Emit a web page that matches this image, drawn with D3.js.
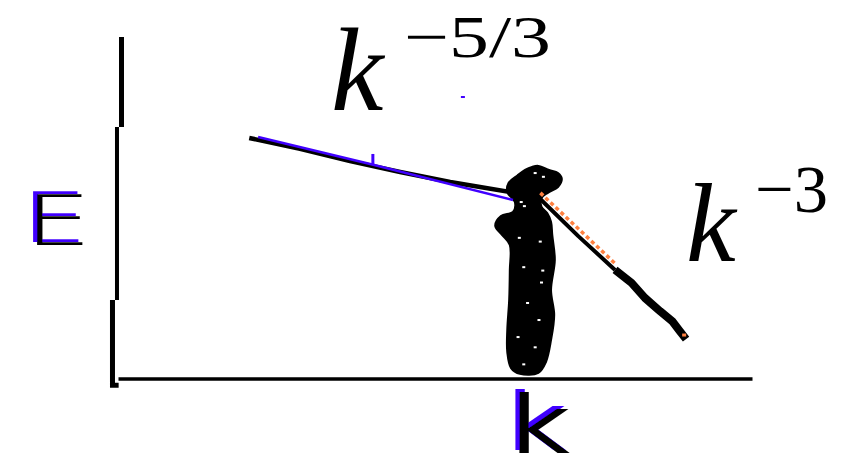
<!DOCTYPE html>
<html>
<head>
<meta charset="utf-8">
<script src="https://cdn.jsdelivr.net/npm/d3@7"></script>
<style>
  html, body { margin: 0; padding: 0; background: #ffffff; }
  svg { display: block; }
</style>
</head>
<body>
<div id="chart"></div>
<script>
// ---------- data (arbitrary spectrum units, 0..100 on both axes) ----------
// hand-sketched spectrum, inertial range (black)
const inertialSketch = [[20.7,70.4],[28.7,67.2],[36.6,63.6],[44.5,60.4],[52.4,57.5],[57.1,56.0],[62.6,54.3]];
// fitted k^-5/3 guide (blue)
const inertialFit = [[22.1,70.7],[40.1,62.6],[62.3,52.2]];
// hand-sketched spectrum, dissipation range (black, thin then thick)
const dissipationThin = [[66.6,52.5],[72.6,41.6],[78.4,31.7]];
const dissipationThick = [[78.4,31.7],[81.0,27.9],[83.1,23.5],[85.5,19.6],[87.4,16.7],[88.6,13.8],[89.6,11.4]];
// fitted k^-3 guide (orange, dotted) and its end mark
const dissipationFit = [[66.3,53.7],[78.2,32.8]];
const dissipationFitEnd = [[89.3,12.6]];
// small stray blue marks
const blueTicks = [[40.2,62.6,65.7]];
const blueDots = [[54.4,82.4]];
// scribbled forcing / transition region
const scribble = [[66.3,62.2],[68.0,61.0],[69.4,60.1],[70.0,58.4],[69.4,56.0],[67.8,54.3],[66.8,52.8],
  [66.8,50.2],[67.7,48.4],[68.3,45.8],[68.5,41.9],[68.9,34.6],[68.3,25.8],[68.8,18.5],[68.3,11.1],
  [67.5,4.7],[66.3,1.5],[63.4,1.2],[62.0,2.9],[61.4,7.6],[61.4,14.1],[61.7,22.9],[61.8,31.7],
  [61.8,39.0],[60.6,41.9],[59.5,44.6],[60.4,47.5],[62.3,48.7],[62.6,51.6],[61.4,54.5],[61.6,57.2],
  [63.0,59.4],[64.2,61.0],[65.3,61.9]];
const scribbleGaps = [[65.8,60.1],[67.1,59.0],[63.6,51.6],[64.1,50.4],[63.3,41.1],[66.6,40.0],
  [64.0,32.5],[66.8,28.0],[64.6,22.0],[66.4,17.0],[63.1,12.0],[65.8,9.0],[64.0,4.0],[67.0,31.5]];
// hand-drawn y axis, in three slightly offset strokes
const yAxisPieces = [
  [[0.55,100],[0.55,73.6]],
  [[-0.16,73.6],[-0.16,22.9]],
  [[-0.87,22.9],[-0.87,-2.1],[0.1,-2.1]]
];
const slopeLabels = [{base:"k", exp:"−5/3"}, {base:"k", exp:"−3"}];
const axisLabels = {x:"k", y:"E"};

// ---------- drawing ----------
const W = 851, H = 462;
const svg = d3.select("#chart").append("svg").attr("width", W).attr("height", H);

const BLUE = "#4000ff", ORANGE = "#ff8040";

// blue offset "shadow" filter used for the hand-drawn axis letters
const defs = svg.append("defs");
const f = defs.append("filter").attr("id", "blueEdge")
  .attr("x", "-20%").attr("y", "-20%").attr("width", "140%").attr("height", "140%");
f.append("feOffset").attr("in", "SourceAlpha").attr("dx", -4).attr("dy", -3).attr("result", "off");
f.append("feFlood").attr("flood-color", BLUE).attr("result", "col");
f.append("feComposite").attr("in", "col").attr("in2", "off").attr("operator", "in").attr("result", "sh");
const fm = f.append("feMerge");
fm.append("feMergeNode").attr("in", "sh");
fm.append("feMergeNode").attr("in", "SourceGraphic");

const x = d3.scaleLinear().domain([0,100]).range([118,752]);
const y = d3.scaleLinear().domain([0,100]).range([378,37]);
const line = d3.line().x(d => x(d[0])).y(d => y(d[1]));

// x axis
svg.append("g").attr("transform", `translate(0,${y(0) + 0.5})`)
  .call(d3.axisBottom(x).ticks(0).tickSizeOuter(0))
  .call(g => g.select(".domain").attr("stroke", "#000").attr("stroke-width", 3.5));

// y axis strokes
const yw = [5, 4, 5];
yAxisPieces.forEach((p, i) => {
  svg.append("path").attr("d", line(p)).attr("fill", "none")
    .attr("stroke", "#000").attr("stroke-width", yw[i]).attr("stroke-linejoin", "miter");
});

// scribble region
svg.append("path")
  .attr("d", d3.line().x(d => x(d[0])).y(d => y(d[1])).curve(d3.curveCatmullRomClosed)(scribble))
  .attr("fill", "#000").attr("stroke", "#000").attr("stroke-width", 2);
svg.selectAll(".gap").data(scribbleGaps).enter().append("rect")
  .attr("x", d => x(d[0]) - 1.5).attr("y", d => y(d[1]) - 1)
  .attr("width", 3).attr("height", 2).attr("fill", "#fff");

// inertial range
svg.append("path").attr("d", line(inertialSketch)).attr("fill", "none")
  .attr("stroke", "#000").attr("stroke-width", 4.5).attr("stroke-linejoin", "round");
svg.append("path").attr("d", line(inertialFit)).attr("fill", "none")
  .attr("stroke", BLUE).attr("stroke-width", 2.5);
svg.selectAll(".btick").data(blueTicks).enter().append("line")
  .attr("x1", d => x(d[0])).attr("x2", d => x(d[0]))
  .attr("y1", d => y(d[1])).attr("y2", d => y(d[2]))
  .attr("stroke", BLUE).attr("stroke-width", 3);
svg.selectAll(".bdot").data(blueDots).enter().append("rect")
  .attr("x", d => x(d[0]) - 2).attr("y", d => y(d[1]) - 1)
  .attr("width", 4).attr("height", 2).attr("fill", BLUE);

// dissipation range
svg.append("path").attr("d", line(dissipationThin)).attr("fill", "none")
  .attr("stroke", "#000").attr("stroke-width", 4).attr("stroke-linejoin", "round");
svg.append("path").attr("d", line(dissipationThick)).attr("fill", "none")
  .attr("stroke", "#000").attr("stroke-width", 8).attr("stroke-linejoin", "round");
svg.append("path").attr("d", line(dissipationFit)).attr("fill", "none")
  .attr("stroke", ORANGE).attr("stroke-width", 3.5).attr("stroke-dasharray", "4,3")
  .attr("transform", "translate(2,-2)");
svg.selectAll(".odot").data(dissipationFitEnd).enter().append("rect")
  .attr("x", d => x(d[0]) - 2).attr("y", d => y(d[1]) - 1.5)
  .attr("width", 4).attr("height", 3).attr("fill", ORANGE);

// slope labels
const serif = "'Liberation Serif', 'Times New Roman', serif";
svg.append("text").attr("font-family", serif).attr("font-size", 118).attr("font-style", "italic")
  .attr("x", 331).attr("y", 110).text(slopeLabels[0].base);
svg.append("text").attr("font-family", serif).attr("font-size", 60)
  .attr("x", 404).attr("y", 57).attr("textLength", 147).attr("lengthAdjust", "spacingAndGlyphs")
  .text(slopeLabels[0].exp);
svg.append("text").attr("font-family", serif).attr("font-size", 112).attr("font-style", "italic")
  .attr("x", 686).attr("y", 261).text(slopeLabels[1].base);
svg.append("text").attr("font-family", serif).attr("font-size", 68)
  .attr("x", 755).attr("y", 212).attr("textLength", 73).attr("lengthAdjust", "spacingAndGlyphs")
  .text(slopeLabels[1].exp);

// hand-drawn looking axis labels (black with blue offset edge)
const sans = "'DejaVu Sans', sans-serif";
svg.append("text").attr("font-family", sans).attr("font-weight", 200).attr("font-size", 70)
  .attr("fill", "#000").attr("filter", "url(#blueEdge)")
  .attr("x", 24).attr("y", 245)
  .attr("textLength", 68).attr("lengthAdjust", "spacingAndGlyphs")
  .text(axisLabels.y);
svg.append("text").attr("font-family", sans).attr("font-size", 80)
  .attr("fill", "#000").attr("filter", "url(#blueEdge)")
  .attr("x", 510).attr("y", 453)
  .attr("textLength", 60).attr("lengthAdjust", "spacingAndGlyphs")
  .text(axisLabels.x);
</script>
</body>
</html>
